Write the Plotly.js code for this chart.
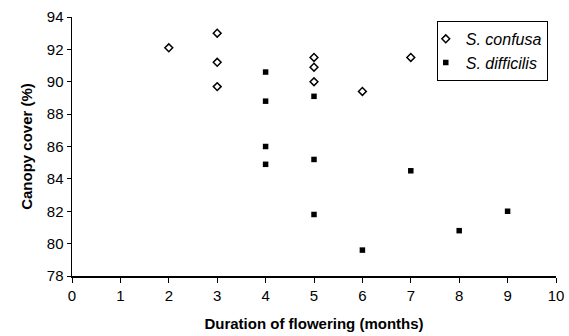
<!DOCTYPE html>
<html>
<head>
<script src="https://cdn.plot.ly/plotly-3.0.1.min.js"></script>
<style>html,body{margin:0;padding:0;background:#fff;}</style>
</head>
<body>
<div id="chart" style="width:569px;height:336px;"></div>
<script>
const confusaX = [2, 3, 3, 3, 5, 5, 5, 6, 7];
const confusaY = [92.1, 93.0, 91.2, 89.7, 91.5, 90.9, 90.0, 89.4, 91.5];
const difficilisX = [4, 4, 4, 4, 5, 5, 5, 6, 7, 8, 9];
const difficilisY = [90.6, 88.8, 86.0, 84.9, 89.1, 85.2, 81.8, 79.6, 84.5, 80.8, 82.0];
const seriesNames = ['S. confusa', 'S. difficilis'];
const xTicks = [0, 1, 2, 3, 4, 5, 6, 7, 8, 9, 10];
const yTicks = [78, 80, 82, 84, 86, 88, 90, 92, 94];

const confusaMarker = {symbol: 'diamond-open', size: 6, color: '#000', line: {width: 1.5, color: '#000'}};
const difficilisMarker = {symbol: 'square', size: 5.5, color: '#000'};

const traces = [
  {
    x: confusaX, y: confusaY, type: 'scatter', mode: 'markers',
    name: '<i>' + seriesNames[0] + '</i>', marker: confusaMarker
  },
  {
    x: difficilisX, y: difficilisY, type: 'scatter', mode: 'markers',
    name: '<i>' + seriesNames[1] + '</i>', marker: difficilisMarker
  }
];

const layout = {
  width: 569, height: 336,
  margin: {l: 72, r: 13, t: 17, b: 60},
  paper_bgcolor: '#fff', plot_bgcolor: '#fff',
  font: {family: 'Liberation Sans, Arial, sans-serif', color: '#000', size: 15},
  showlegend: true,
  legend: {
    x: 0.983, y: 0.985, xanchor: 'right', yanchor: 'top',
    bordercolor: '#000', borderwidth: 1, bgcolor: '#fff',
    font: {size: 16}, tracegroupgap: 0, indentation: -12
  },
  xaxis: {
    range: [0, 10], tickvals: xTicks, ticktext: xTicks.map(String),
    showgrid: false, zeroline: false, showline: true, linecolor: '#000', linewidth: 1.5,
    ticks: 'outside', ticklen: 5, tickcolor: '#000',
    tickfont: {size: 15},
    title: {text: '<b>Duration of flowering (months)</b>', font: {size: 15}, standoff: 16}
  },
  yaxis: {
    range: [78, 94], tickvals: yTicks, ticktext: yTicks.map(String),
    showgrid: false, zeroline: false, showline: true, linecolor: '#000', linewidth: 1.5,
    ticks: 'outside', ticklen: 4, tickcolor: '#000',
    tickfont: {size: 15},
    title: {text: '<b>Canopy cover (%)</b>', font: {size: 15}, standoff: 10}
  }
};

Plotly.newPlot('chart', traces, layout, {displayModeBar: false, staticPlot: true});
</script>
</body>
</html>
